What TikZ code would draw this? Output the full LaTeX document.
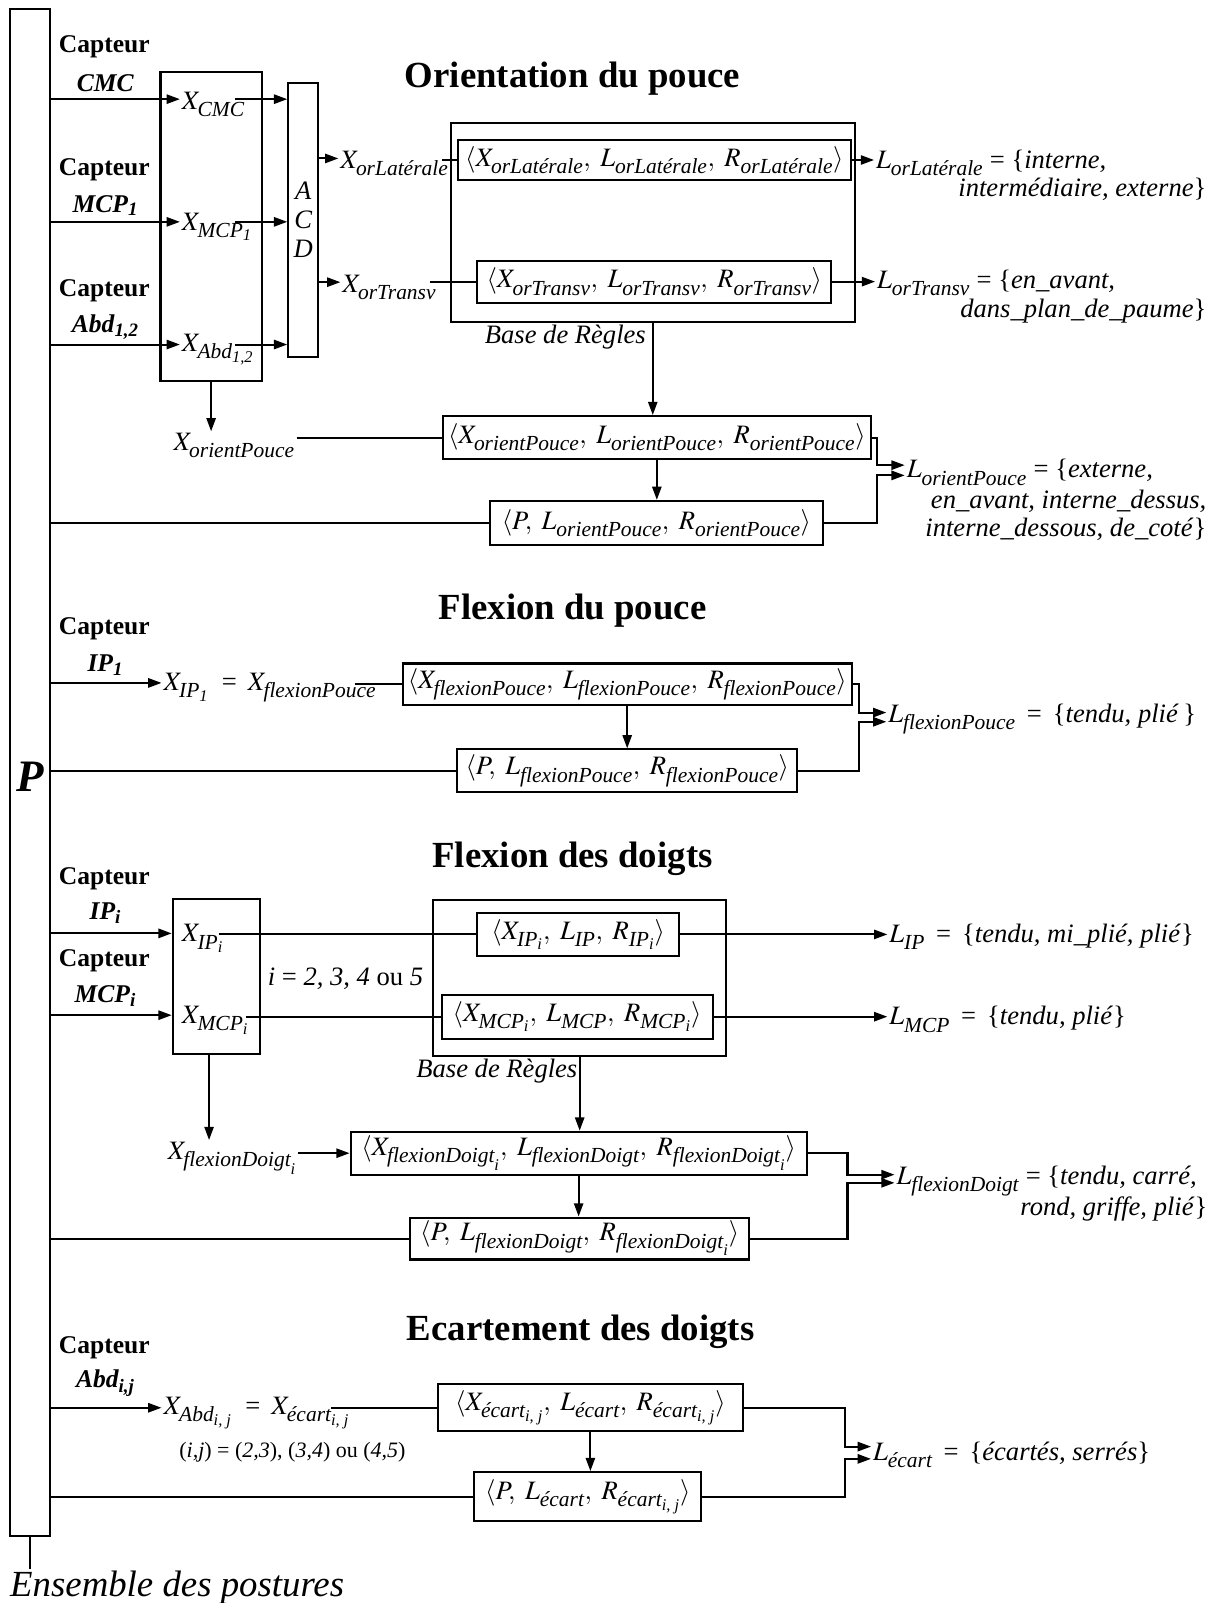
\documentclass[tikz,border=0pt]{standalone}
\usepackage{amsmath}
\usepackage{mathptmx}
\usepackage{fontspec}
\setmainfont{Liberation Serif}
\usetikzlibrary{arrows.meta,positioning}

\DeclareMathSizes{26}{26}{21}{16}
% indices en italique, un peu plus bas que d'habitude
\newcommand{\ix}[1]{\text{\raisebox{-0.15em}{\itshape #1}}}

\begin{document}
\begin{tikzpicture}[x=1pt, y=-1pt, line width=2pt, font=\fontsize{26}{30}\selectfont]
    \tikzstyle{pos_box}   = [shape = rectangle, draw = black, inner sep=0pt]
    \tikzstyle{pos_txt}   = [inner sep=1pt]
    \tikzstyle{pos_titre} = [font=\fontsize{36}{40}\selectfont\bfseries]
    \tikzstyle{pos_capt}  = [font=\fontsize{25}{28}\selectfont\bfseries]
    \tikzstyle{pos_arr}   = [-{Triangle[length=13pt,width=9pt]}]

    \useasboundingbox (0,0) rectangle (1198,1568);

    % barre des postures
    \node[pos_box, minimum width=39pt, minimum height=1493pt] at (29.5, 755.5) (bar) {};
    \node[font=\fontsize{44}{44}\selectfont\bfseries\itshape] at (30, 760) (P) {P};
    \node[pos_txt, anchor=west, font=\fontsize{36}{40}\selectfont\itshape] at (8, 1553) (ens) {Ensemble des postures};
    \draw (bar.south) -- (bar.south |- ens.north);

    %% Orientation du pouce
    \node[pos_titre] at (560, 77) (tOrient) {Orientation du pouce};

    \node[pos_capt] at (102, 46)  (c1)  {Capteur};
    \node[pos_capt] at (103, 81)  (c1s) {\textit{CMC}};
    \node[pos_capt] at (102, 166) (c2)  {Capteur};
    \node[pos_capt] at (103, 201) (c2s) {\textit{MCP\textsubscript{1}}};
    \node[pos_capt] at (102, 284) (c3)  {Capteur};
    \node[pos_capt] at (103, 320) (c3s) {\textit{Abd\textsubscript{1,2}}};

    \node[pos_box, minimum width=99pt, minimum height=303pt] at (206.5, 221.5) (s1) {};
    \node[pos_txt, anchor=west] at (176, 102) (xcmc) {$X_{\ix{CMC}}$};
    \node[pos_txt, anchor=west] at (176, 222) (xmcp) {$X_{\ix{MCP}_{\ix{1}}}$};
    \node[pos_txt, anchor=west] at (176, 342) (xabd) {$X_{\ix{Abd}_{\ix{1,2}}}$};
    \coordinate (in_cmc) at ([yshift=5pt]xcmc.west);
    \coordinate (in_mcp) at ([yshift=5pt]xmcp.west);
    \coordinate (in_abd) at ([yshift=5pt]xabd.west);

    \node[pos_box, minimum width=29pt, minimum height=268pt, align=center,
          font=\fontsize{26}{28}\selectfont\itshape] at (296.5, 215) (acd) {A\\C\\D};

    \node[pos_txt, anchor=west] at (331, 160) (xlat) {$X_{\ix{orLatérale}}$};
    \node[pos_txt, anchor=west] at (333, 281) (xtr)  {$X_{\ix{orTransv}}$};
    \coordinate (in_lat) at ([yshift=5pt]xlat.west);
    \coordinate (in_tr)  at ([yshift=5pt]xtr.west);

    \node[pos_box, minimum width=395pt, minimum height=195pt] at (638.5, 217.5) (base1) {};
    \node[pos_box, minimum width=384pt, minimum height=39pt] at (640, 156.5) (r1)
      {$\langle X_{\ix{orLatérale}},\ L_{\ix{orLatérale}},\ R_{\ix{orLatérale}}\rangle$};
    \node[pos_box, minimum width=346pt, minimum height=41pt] at (640, 275.5) (r2)
      {$\langle X_{\ix{orTransv}},\ L_{\ix{orTransv}},\ R_{\ix{orTransv}}\rangle$};
    \node[pos_txt, font=\fontsize{26}{30}\selectfont\itshape] at (553, 330) (bdr1) {Base de Règles};

    \node[pos_txt, anchor=west] at (855, 159) (lLat)  {$L_{\ix{orLatérale}}$ = \{\textit{interne,}};
    \node[pos_txt, anchor=east] at (1182, 185) (lLat2) {\textit{intermédiaire, externe}\}};
    \node[pos_txt, anchor=west] at (856, 277) (lTr)   {$L_{\ix{orTransv}}$ = \{\textit{en\_avant,}};
    \node[pos_txt, anchor=east] at (1182, 304) (lTr2)  {\textit{dans\_plan\_de\_paume}\}};

    \node[pos_txt] at (229, 436) (xop) {$X_{\ix{orientPouce}}$};
    \node[pos_box, minimum width=419pt, minimum height=42pt] at (642.5, 428) (r3)
      {$\langle X_{\ix{orientPouce}},\ L_{\ix{orientPouce}},\ R_{\ix{orientPouce}}\rangle$};
    \node[pos_box, minimum width=326pt, minimum height=43pt] at (642, 511.5) (r4)
      {$\langle P,\ L_{\ix{orientPouce}},\ R_{\ix{orientPouce}}\rangle$};

    \coordinate (jOP) at (858, 460);
    \node[pos_txt, anchor=west] at (885, 462)  (lOP)  {$L_{\ix{orientPouce}}$ = \{\textit{externe,}};
    \node[pos_txt, anchor=east] at (1182, 490) (lOP2) {\textit{en\_avant, interne\_dessus,}};
    \node[pos_txt, anchor=east] at (1182, 518) (lOP3) {\textit{interne\_dessous, de\_coté}\}};

    \path[pos_arr]
      (bar.east |- in_cmc) edge (in_cmc)
      (bar.east |- in_mcp) edge (in_mcp)
      (bar.east |- in_abd) edge (in_abd)
      ([xshift=-27pt]s1.east |- in_cmc) edge (acd.west |- in_cmc)
      ([xshift=-27pt]s1.east |- in_mcp) edge (acd.west |- in_mcp)
      ([xshift=-27pt]s1.east |- in_abd) edge (acd.west |- in_abd)
      (acd.east |- in_lat) edge (in_lat)
      (acd.east |- in_tr) edge (in_tr)
      (r1.east) edge (lLat.west |- r1.east)
      (r2.east) edge (lTr.west |- r2.east)
      (s1.south) edge (s1.south |- xop.north)
      (base1.south) edge (base1.south |- r3.north)
      (r3.south) edge (r3.south |- r4.north)
    ;
    \draw ([xshift=-8pt]xlat.east |- r1.west) -- (r1.west);
    \draw ([xshift=-8pt]xtr.east |- r2.west) -- (r2.west);
    \draw (xop.east |- r3.west) -- (r3.west);
    \draw (bar.east |- r4.west) -- (r4.west);
    \draw[pos_arr] (r3.east) -| ([yshift=5pt]jOP) -- ([yshift=5pt]jOP -| lOP.west);
    \draw[pos_arr] (r4.east) -| ([yshift=-5pt]jOP) -- ([yshift=-5pt]jOP -| lOP.west);

    %% Flexion du pouce
    \node[pos_titre] at (560, 597) (tFlexP) {Flexion du pouce};

    \node[pos_capt] at (102, 615) (c4)  {Capteur};
    \node[pos_capt] at (103, 651) (c4s) {\textit{IP\textsubscript{1}}};
    \node[pos_txt, anchor=west] at (158, 673) (xip1)
      {$X_{\ix{IP}_{\ix{1}}}$ \ =\ \,$X_{\ix{flexionPouce}}$};
    \coordinate (in_ip1) at ([yshift=5pt]xip1.west);

    \node[pos_box, minimum width=439pt, minimum height=41pt] at (613.5, 669.5) (f1)
      {$\langle X_{\ix{flexionPouce}},\ L_{\ix{flexionPouce}},\ R_{\ix{flexionPouce}}\rangle$};
    \node[pos_box, minimum width=333pt, minimum height=42pt] at (613.5, 754) (f2)
      {$\langle P,\ L_{\ix{flexionPouce}},\ R_{\ix{flexionPouce}}\rangle$};

    \coordinate (jFP) at (840, 702);
    \node[pos_txt, anchor=west] at (867, 703) (lFP)
      {$L_{\ix{flexionPouce}}$ \,=\, \{\textit{tendu, plié}\,\}};

    \path[pos_arr]
      (bar.east |- in_ip1) edge (in_ip1)
      (f1.south) edge (f1.south |- f2.north)
    ;
    \draw ([xshift=-23pt]xip1.east |- f1.west) -- (f1.west);
    \draw (bar.east |- f2.west) -- (f2.west);
    \draw[pos_arr] (f1.east) -| ([yshift=5pt]jFP) -- ([yshift=5pt]jFP -| lFP.west);
    \draw[pos_arr] (f2.east) -| ([yshift=-4pt]jFP) -- ([yshift=-4pt]jFP -| lFP.west);

    %% Flexion des doigts
    \node[pos_titre] at (560, 840) (tFlexD) {Flexion des doigts};

    \node[pos_capt] at (102, 860) (c5)  {Capteur};
    \node[pos_capt] at (103, 893) (c5s) {\textit{IP\textsubscript{i}}};
    \node[pos_capt] at (102, 940) (c6)  {Capteur};
    \node[pos_capt] at (103, 974) (c6s) {\textit{MCP\textsubscript{i}}};

    \node[pos_box, minimum width=85pt, minimum height=152pt] at (211.5, 955) (s3) {};
    \node[pos_txt, anchor=west] at (176, 918) (xipi)  {$X_{\ix{IP}_{\ix{i}}}$};
    \node[pos_txt, anchor=west] at (176, 998) (xmcpi) {$X_{\ix{MCP}_{\ix{i}}}$};
    \coordinate (in_ipi)  at ([yshift=5pt]xipi.west);
    \coordinate (in_mcpi) at ([yshift=5pt]xmcpi.west);
    \node[pos_txt] at (338, 957) (iVal) {\textit{i} = \textit{2, 3, 4} ou \textit{5}};

    \node[pos_box, minimum width=286pt, minimum height=153pt] at (567, 956.5) (base3) {};
    \node[pos_box, minimum width=197pt, minimum height=42pt] at (565.5, 914) (rIP)
      {$\langle X_{\ix{IP}_{\ix{i}}},\ L_{\ix{IP}},\ R_{\ix{IP}_{\ix{i}}}\rangle$};
    \node[pos_box, minimum width=265pt, minimum height=43pt] at (564.5, 994.5) (rMCP)
      {$\langle X_{\ix{MCP}_{\ix{i}}},\ L_{\ix{MCP}},\ R_{\ix{MCP}_{\ix{i}}}\rangle$};
    \node[pos_txt, font=\fontsize{26}{30}\selectfont\itshape] at (486, 1048) (bdr3) {Base de Règles};

    \node[pos_txt, anchor=west] at (868, 916) (lIP)
      {$L_{\ix{IP}}$ \,=\, \{\textit{tendu, mi\_plié, plié}\}};
    \node[pos_txt, anchor=west] at (868, 997) (lMCP)
      {$L_{\ix{MCP}}$ \,=\, \{\textit{tendu, plié}\}};

    \node[pos_txt] at (227, 1133) (xfd) {$X_{\ix{flexionDoigt}_{\ix{i}}}$};
    \node[pos_box, minimum width=446pt, minimum height=42pt] at (566, 1128) (rFD)
      {$\langle X_{\ix{flexionDoigt}_{\ix{i}}},\ L_{\ix{flexionDoigt}},\ R_{\ix{flexionDoigt}_{\ix{i}}}\rangle$};
    \node[pos_box, minimum width=332pt, minimum height=41pt] at (567, 1211.5) (rFP)
      {$\langle P,\ L_{\ix{flexionDoigt}},\ R_{\ix{flexionDoigt}_{\ix{i}}}\rangle$};

    \coordinate (jFD) at (829, 1153);
    \node[pos_txt, anchor=west] at (875, 1155) (lFD)  {$L_{\ix{flexionDoigt}}$ = \{\textit{tendu, carré,}};
    \node[pos_txt, anchor=east] at (1183, 1183) (lFD2) {\textit{rond, griffe, plié}\}};

    \path[pos_arr]
      (bar.east |- in_ipi) edge (s3.west |- in_ipi)
      (bar.east |- in_mcpi) edge (s3.west |- in_mcpi)
      (rIP.east) edge (lIP.west |- rIP.east)
      (rMCP.east) edge (lMCP.west |- rMCP.east)
      (base3.south) edge (base3.south |- rFD.north)
      ([xshift=-7pt]s3.south) edge ([xshift=-7pt]s3.south |- xfd.north)
      (xfd.east |- rFD.west) edge (rFD.west)
      (rFD.south) edge (rFD.south |- rFP.north)
    ;
    \draw ([xshift=-6pt]xipi.east |- rIP.west) -- (rIP.west);
    \draw ([xshift=-4pt]xmcpi.east |- rMCP.west) -- (rMCP.west);
    \draw (bar.east |- rFP.west) -- (rFP.west);
    \draw[pos_arr] (rFD.east) -| ([yshift=4pt]jFD) -- ([yshift=4pt]jFD -| lFD.west);
    \draw[pos_arr] (rFP.east) -| ([yshift=-4pt]jFD) -- ([yshift=-4pt]jFD -| lFD.west);

    %% Ecartement des doigts
    \node[pos_titre] at (568, 1303) (tEcart) {Ecartement des doigts};

    \node[pos_capt] at (102, 1318) (c7)  {Capteur};
    \node[pos_capt] at (103, 1353) (c7s) {\textit{Abd\textsubscript{i,j}}};
    \node[pos_txt, anchor=west] at (158, 1382) (xabdij)
      {$X_{\ix{Abd}_{\ix{i, j}}}$ \ =\ \,$X_{\ix{écart}_{\ix{i, j}}}$};
    \coordinate (in_abdij) at ([yshift=5pt]xabdij.west);
    \node[pos_txt, font=\fontsize{21.5}{24}\selectfont] at (286, 1420) (ijVal)
      {(\textit{i,j}) = (\textit{2,3}), (\textit{3,4}) ou (\textit{4,5})};

    \node[pos_box, minimum width=299pt, minimum height=46pt] at (577.5, 1377) (rE1)
      {$\langle X_{\ix{écart}_{\ix{i, j}}},\ L_{\ix{écart}},\ R_{\ix{écart}_{\ix{i, j}}}\rangle$};
    \node[pos_box, minimum width=222pt, minimum height=48pt] at (575, 1464) (rE2)
      {$\langle P,\ L_{\ix{écart}},\ R_{\ix{écart}_{\ix{i, j}}}\rangle$};

    \coordinate (jE) at (827, 1421);
    \node[pos_txt, anchor=west] at (852, 1423) (lE)
      {$L_{\ix{écart}}$ \,=\, \{\textit{écartés, serrés}\}};

    \path[pos_arr]
      (bar.east |- in_abdij) edge (in_abdij)
      (rE1.south) edge (rE1.south |- rE2.north)
    ;
    \draw ([xshift=-20pt]xabdij.east |- rE1.west) -- (rE1.west);
    \draw (bar.east |- rE2.west) -- (rE2.west);
    \draw[pos_arr] (rE1.east) -| ([yshift=6pt]jE) -- ([yshift=6pt]jE -| lE.west);
    \draw[pos_arr] (rE2.east) -| ([yshift=-6pt]jE) -- ([yshift=-6pt]jE -| lE.west);
\end{tikzpicture}
\end{document}
